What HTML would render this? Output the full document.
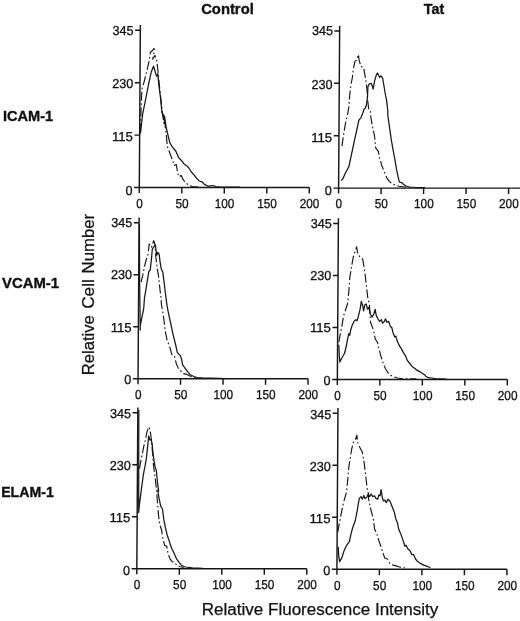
<!DOCTYPE html>
<html lang="en"><head><meta charset="utf-8"><title>Figure</title>
<style>html,body{margin:0;padding:0;background:#fff}svg{display:block}text{font-family:"Liberation Sans",Arial,Helvetica,sans-serif;fill:#111}.b{font-weight:bold;font-size:14.4px;stroke:#111;stroke-width:0.35px}.t{font-size:13px;stroke:#111;stroke-width:0.3px}.a{font-size:16px;stroke:#111;stroke-width:0.25px}.ax{stroke:#161616;stroke-width:1.45;fill:none}.s{stroke:#161616;stroke-width:1.25;fill:none;stroke-linejoin:round}.d{stroke:#161616;stroke-width:1.15;fill:none;stroke-dasharray:9 2.6 1.6 2.6;stroke-linejoin:round}</style></head><body>
<svg width="520" height="621" viewBox="0 0 520 621">
<rect width="520" height="621" fill="#fff"/>
<text class="b" x="201.2" y="14.2" textLength="52.6" lengthAdjust="spacingAndGlyphs" style="font-size:15px">Control</text>
<text class="b" x="423.8" y="14.2" textLength="20.4" lengthAdjust="spacingAndGlyphs" style="font-size:14.8px">Tat</text>
<text class="b" x="3" y="121.4" textLength="50.2" lengthAdjust="spacingAndGlyphs">ICAM-1</text>
<text class="b" x="2" y="287.9" textLength="57" lengthAdjust="spacingAndGlyphs">VCAM-1</text>
<text class="b" x="1.2" y="496.6" textLength="52.6" lengthAdjust="spacingAndGlyphs">ELAM-1</text>
<text class="a" x="201.8" y="615" textLength="236.5" lengthAdjust="spacingAndGlyphs">Relative Fluorescence Intensity</text>
<text class="a" transform="translate(93.5 375.2) rotate(-90)" textLength="60.0" lengthAdjust="spacingAndGlyphs" style="font-size:16.8px">Relative</text>
<text class="a" transform="translate(93.5 308.8) rotate(-90)" textLength="29.6" lengthAdjust="spacingAndGlyphs" style="font-size:16.8px">Cell</text>
<text class="a" transform="translate(93.5 273.4) rotate(-90)" textLength="59.6" lengthAdjust="spacingAndGlyphs" style="font-size:16.8px">Number</text>
<g transform="matrix(1 0 -0.0065 1 1.222 0.0)">
<path class="ax" d="M139.3 25.1 V193.0 M134.1 187.5 H309.3 M134.1 135.1 H139.3 M134.1 82.7 H139.3 M134.1 30.3 H139.3 M181.8 187.5 V193.5 M224.3 187.5 V193.5 M266.8 187.5 V193.5 M309.3 187.5 V193.5"/>
<text class="t" x="125.6" y="194.6" textLength="7.0" lengthAdjust="spacingAndGlyphs">0</text>
<text class="t" x="111.6" y="141.4" textLength="21.0" lengthAdjust="spacingAndGlyphs">115</text>
<text class="t" x="111.6" y="88.2" textLength="21.0" lengthAdjust="spacingAndGlyphs">230</text>
<text class="t" x="111.6" y="34.7" textLength="21.0" lengthAdjust="spacingAndGlyphs">345</text>
<text class="t" x="136.4" y="207.9" textLength="6.5" lengthAdjust="spacingAndGlyphs">0</text>
<text class="t" x="175.7" y="207.9" textLength="13.1" lengthAdjust="spacingAndGlyphs">50</text>
<text class="t" x="214.9" y="207.9" textLength="19.6" lengthAdjust="spacingAndGlyphs">100</text>
<text class="t" x="257.4" y="207.9" textLength="19.6" lengthAdjust="spacingAndGlyphs">150</text>
<text class="t" x="299.9" y="207.9" textLength="19.6" lengthAdjust="spacingAndGlyphs">200</text>
</g>
<path class="d" d="M140.5 132.3 L141.2 104.6 L141.9 89.2 L144.2 81.5 L147.3 69.2 L149.6 58.5 L150.4 52.3 L152.2 50.8 L154.2 48.5 L153.8 53.8 L152.7 59.2 L155.0 55.4 L156.8 60.8 L158.1 72.3 L159.3 84.6 L160.8 98.5 L162.4 112.3 L163.9 123.1 L162.1 111.7 L164.7 122.1 L166.4 136.0 L167.3 146.3 L169.9 153.3 L172.5 160.2 L174.2 165.4 L176.3 164.5 L177.3 170.6 L178.6 176.6 L181.2 175.4 L182.9 179.2 L185.5 182.7 L188.9 185.3 L192.4 186.5 L198.5 187.0"/>
<path class="s" d="M140.4 133.8 L142.7 113.8 L145.8 98.5 L148.8 83.1 L151.2 72.3 L153.5 66.2 L154.7 70.0 L156.5 76.2 L157.8 73.8 L158.8 84.6 L160.4 96.9 L161.9 112.3 L163.5 115.4 L164.5 116.2 L165.8 124.6 L162.1 111.7 L164.7 120.4 L167.3 132.5 L169.9 142.9 L172.5 147.2 L176.0 151.5 L178.6 157.6 L181.2 160.2 L183.8 163.7 L186.3 165.4 L188.9 168.0 L191.5 172.3 L194.1 174.9 L196.7 178.4 L199.3 181.0 L201.9 181.8 L204.5 184.4 L208.0 186.2 L210.6 185.8 L213.2 185.5 L215.8 186.5 L221.0 187.0 L240.0 187.2"/>
<g transform="matrix(1 0 -0.0065 1 1.222 0.6)">
<path class="ax" d="M338.6 25.1 V193.0 M333.4 187.5 H528.6 M333.4 135.1 H338.6 M333.4 82.7 H338.6 M333.4 30.3 H338.6 M381.1 187.5 V193.5 M423.6 187.5 V193.5 M466.1 187.5 V193.5 M508.6 187.5 V193.5"/>
<text class="t" x="324.9" y="194.6" textLength="7.0" lengthAdjust="spacingAndGlyphs">0</text>
<text class="t" x="310.9" y="141.4" textLength="21.0" lengthAdjust="spacingAndGlyphs">115</text>
<text class="t" x="310.9" y="88.2" textLength="21.0" lengthAdjust="spacingAndGlyphs">230</text>
<text class="t" x="310.9" y="34.7" textLength="21.0" lengthAdjust="spacingAndGlyphs">345</text>
<text class="t" x="335.7" y="207.9" textLength="6.5" lengthAdjust="spacingAndGlyphs">0</text>
<text class="t" x="374.9" y="207.9" textLength="13.1" lengthAdjust="spacingAndGlyphs">50</text>
<text class="t" x="414.2" y="207.9" textLength="19.6" lengthAdjust="spacingAndGlyphs">100</text>
<text class="t" x="456.7" y="207.9" textLength="19.6" lengthAdjust="spacingAndGlyphs">150</text>
<text class="t" x="499.2" y="207.9" textLength="19.6" lengthAdjust="spacingAndGlyphs">200</text>
</g>
<path class="d" d="M341.9 146.2 L343.7 134.0 L345.4 123.7 L347.5 115.0 L348.8 107.3 L349.7 95.2 L350.9 84.8 L352.3 77.9 L353.2 70.1 L354.9 61.4 L356.6 60.2 L358.4 54.5 L359.2 60.6 L361.0 66.6 L363.6 67.5 L364.8 74.4 L366.2 82.2 L367.0 90.0 L367.5 98.7 L368.8 109.9 L370.5 111.6 L370.5 115.0 L372.2 125.4 L374.5 135.8 L375.7 147.9 L378.3 151.3 L379.7 158.3 L381.7 165.2 L384.3 172.1 L386.9 178.2 L389.5 181.6 L393.0 184.2 L396.4 185.6 L399.0 186.3 L404.2 187.0 L411.2 187.5"/>
<path class="s" d="M341.1 180.4 L342.8 179.0 L345.4 173.0 L348.8 166.9 L351.4 154.8 L354.0 142.7 L356.6 130.6 L358.9 120.2 L361.0 117.6 L362.7 113.4 L364.1 109.0 L365.3 108.2 L366.5 104.7 L367.5 96.9 L367.9 86.5 L369.3 83.9 L371.3 83.4 L372.2 85.7 L373.1 89.1 L374.5 81.3 L376.2 75.3 L377.4 73.0 L378.6 75.3 L379.7 77.5 L380.9 75.8 L382.6 77.9 L383.8 84.8 L385.2 93.5 L386.6 100.4 L387.8 110.8 L387.8 115.0 L389.5 127.1 L391.2 139.2 L393.0 149.6 L394.7 158.3 L396.4 168.7 L398.2 177.3 L399.4 182.2 L401.6 182.5 L403.4 184.2 L406.0 186.0 L409.4 187.0 L416.3 187.5 L425.0 187.7"/>
<g transform="matrix(1 0 -0.0065 1 1.222 0.0)">
<path class="ax" d="M139.3 217.5 V384.2 M134.1 378.7 H309.3 M134.1 326.7 H139.3 M134.1 274.7 H139.3 M134.1 222.7 H139.3 M181.8 378.7 V384.7 M224.3 378.7 V384.7 M266.8 378.7 V384.7 M309.3 378.7 V384.7"/>
<text class="t" x="125.6" y="384.3" textLength="7.0" lengthAdjust="spacingAndGlyphs">0</text>
<text class="t" x="111.6" y="331.7" textLength="21.0" lengthAdjust="spacingAndGlyphs">115</text>
<text class="t" x="111.6" y="279.4" textLength="21.0" lengthAdjust="spacingAndGlyphs">230</text>
<text class="t" x="111.6" y="227.1" textLength="21.0" lengthAdjust="spacingAndGlyphs">345</text>
<text class="t" x="136.4" y="399.1" textLength="6.5" lengthAdjust="spacingAndGlyphs">0</text>
<text class="t" x="175.7" y="399.1" textLength="13.1" lengthAdjust="spacingAndGlyphs">50</text>
<text class="t" x="214.9" y="399.1" textLength="19.6" lengthAdjust="spacingAndGlyphs">100</text>
<text class="t" x="257.4" y="399.1" textLength="19.6" lengthAdjust="spacingAndGlyphs">150</text>
<text class="t" x="299.9" y="399.1" textLength="19.6" lengthAdjust="spacingAndGlyphs">200</text>
</g>
<path class="d" d="M141.1 282.1 L142.8 275.2 L144.5 266.5 L146.2 259.6 L148.0 254.4 L149.2 244.0 L151.4 247.5 L153.7 240.6 L154.9 244.0 L155.8 256.2 L157.2 268.3 L158.4 275.2 L159.2 282.1 L160.1 290.8 L161.3 299.4 L161.3 303.5 L163.6 317.3 L165.3 331.2 L167.0 339.8 L169.6 346.7 L172.2 355.4 L174.5 356.2 L176.2 363.2 L178.3 368.4 L180.9 371.0 L183.5 373.6 L186.9 374.4 L190.4 376.2 L194.7 377.5 L200.8 378.2"/>
<path class="s" d="M139.4 224.0 L139.6 280.0 L140.3 330.0 L140.2 326.0 L141.9 317.3 L143.7 308.7 L144.5 297.7 L145.7 290.8 L147.1 282.1 L148.8 271.7 L150.2 270.0 L151.4 259.6 L152.3 249.2 L154.0 246.6 L155.4 244.9 L156.1 251.0 L156.8 255.3 L157.8 252.3 L159.2 254.4 L160.1 262.2 L161.3 269.1 L162.7 271.7 L164.1 282.1 L165.3 292.5 L166.5 301.2 L166.2 300.0 L167.9 310.4 L170.5 322.5 L173.1 334.6 L175.7 345.0 L177.4 352.8 L180.3 355.4 L181.7 359.7 L182.6 364.9 L185.2 368.4 L187.8 371.8 L190.4 374.8 L193.8 376.5 L197.3 377.5 L204.2 378.2 L212.9 378.2 L225.0 378.6"/>
<g transform="matrix(1 0 -0.0065 1 1.222 0.8)">
<path class="ax" d="M338.6 217.5 V384.2 M333.4 378.7 H508.6 M333.4 326.7 H338.6 M333.4 274.7 H338.6 M333.4 222.7 H338.6 M381.1 378.7 V384.7 M423.6 378.7 V384.7 M466.1 378.7 V384.7 M508.6 378.7 V384.7"/>
<text class="t" x="324.9" y="384.3" textLength="7.0" lengthAdjust="spacingAndGlyphs">0</text>
<text class="t" x="310.9" y="331.7" textLength="21.0" lengthAdjust="spacingAndGlyphs">115</text>
<text class="t" x="310.9" y="279.4" textLength="21.0" lengthAdjust="spacingAndGlyphs">230</text>
<text class="t" x="310.9" y="227.1" textLength="21.0" lengthAdjust="spacingAndGlyphs">345</text>
<text class="t" x="335.7" y="399.1" textLength="6.5" lengthAdjust="spacingAndGlyphs">0</text>
<text class="t" x="374.9" y="399.1" textLength="13.1" lengthAdjust="spacingAndGlyphs">50</text>
<text class="t" x="414.2" y="399.1" textLength="19.6" lengthAdjust="spacingAndGlyphs">100</text>
<text class="t" x="456.7" y="399.1" textLength="19.6" lengthAdjust="spacingAndGlyphs">150</text>
<text class="t" x="499.2" y="399.1" textLength="19.6" lengthAdjust="spacingAndGlyphs">200</text>
</g>
<path class="d" d="M338.8 342.2 L340.2 334.4 L341.9 325.8 L343.7 315.4 L345.4 310.2 L347.5 304.0 L348.8 291.9 L349.7 278.1 L351.4 267.7 L353.2 257.3 L354.9 252.1 L356.6 246.9 L357.8 253.8 L360.1 257.3 L362.7 259.0 L364.1 267.7 L365.3 276.3 L366.5 286.7 L367.9 298.8 L369.3 303.2 L370.5 322.3 L372.2 326.6 L373.9 331.8 L375.2 338.8 L377.4 342.2 L379.1 349.1 L380.9 356.1 L383.1 363.0 L385.2 368.2 L387.8 372.5 L390.4 375.1 L393.8 376.8 L397.3 378.0 L402.5 378.7 L409.4 378.9 L416.3 378.9"/>
<path class="s" d="M338.8 344.8 L339.3 355.2 L339.8 362.1 L341.9 357.8 L344.5 353.5 L346.2 346.5 L347.5 339.6 L348.8 333.6 L349.7 335.3 L350.9 329.2 L352.3 324.9 L354.0 321.4 L355.8 319.7 L357.2 320.6 L358.4 316.2 L360.1 309.2 L361.3 301.4 L362.7 305.7 L363.6 310.9 L364.8 304.8 L366.2 304.0 L367.5 309.2 L368.8 307.4 L370.5 314.5 L372.2 317.1 L373.9 313.7 L375.2 309.3 L376.2 315.4 L377.9 318.8 L379.7 321.4 L381.4 319.7 L382.6 323.2 L384.3 321.4 L385.5 318.8 L386.9 322.3 L388.7 321.4 L390.4 326.6 L391.8 327.5 L393.0 332.7 L394.7 337.0 L395.9 336.2 L397.3 341.3 L399.4 345.7 L401.6 349.1 L403.4 352.6 L405.6 356.1 L407.3 360.4 L409.4 363.0 L412.0 366.4 L414.6 368.2 L417.2 370.4 L419.8 371.6 L422.4 373.4 L425.0 375.1 L425.8 376.3 L428.4 377.7 L431.8 378.0 L435.3 378.7 L446.5 379.1"/>
<g transform="matrix(1 0 -0.0065 1 1.222 0.0)">
<path class="ax" d="M139.3 407.5 V574.3 M134.1 568.8 H309.3 M134.1 516.8 H139.3 M134.1 464.7 H139.3 M134.1 412.7 H139.3 M181.8 568.8 V574.8 M224.3 568.8 V574.8 M266.8 568.8 V574.8 M309.3 568.8 V574.8"/>
<text class="t" x="125.6" y="574.7" textLength="7.0" lengthAdjust="spacingAndGlyphs">0</text>
<text class="t" x="111.6" y="522.4" textLength="21.0" lengthAdjust="spacingAndGlyphs">115</text>
<text class="t" x="111.6" y="470.2" textLength="21.0" lengthAdjust="spacingAndGlyphs">230</text>
<text class="t" x="111.6" y="418.1" textLength="21.0" lengthAdjust="spacingAndGlyphs">345</text>
<text class="t" x="136.4" y="589.2" textLength="6.5" lengthAdjust="spacingAndGlyphs">0</text>
<text class="t" x="175.7" y="589.2" textLength="13.1" lengthAdjust="spacingAndGlyphs">50</text>
<text class="t" x="214.9" y="589.2" textLength="19.6" lengthAdjust="spacingAndGlyphs">100</text>
<text class="t" x="257.4" y="589.2" textLength="19.6" lengthAdjust="spacingAndGlyphs">150</text>
<text class="t" x="299.9" y="589.2" textLength="19.6" lengthAdjust="spacingAndGlyphs">200</text>
</g>
<path class="d" d="M139.5 468.7 L140.7 461.7 L142.1 454.8 L143.8 446.2 L145.6 439.2 L147.0 431.4 L149.0 427.1 L150.4 432.3 L151.1 437.5 L152.0 446.2 L152.7 454.8 L153.5 465.2 L154.6 473.8 L155.6 481.6 L156.5 489.4 L156.8 493.5 L157.7 505.6 L158.6 516.0 L159.8 524.6 L161.5 529.8 L162.9 538.5 L164.6 545.4 L166.7 546.2 L168.1 554.0 L170.2 559.2 L172.4 561.8 L174.7 562.3 L176.7 565.3 L180.2 566.7 L183.7 567.5"/>
<path class="s" d="M138.8 410.0 L138.7 512.5 L139.5 503.8 L140.7 495.2 L141.8 486.0 L143.5 473.8 L145.2 465.2 L146.4 458.3 L147.3 449.6 L148.2 441.0 L148.7 435.8 L149.9 440.1 L151.1 439.2 L152.2 444.4 L152.8 451.3 L153.9 460.0 L155.1 466.9 L156.3 470.4 L157.3 480.8 L158.6 491.2 L157.7 490.0 L159.1 498.7 L160.8 506.4 L162.5 509.0 L163.8 519.4 L165.5 528.1 L167.2 535.0 L169.5 541.9 L171.5 548.0 L174.1 553.2 L176.7 559.2 L179.3 562.7 L181.9 565.6 L185.4 567.0 L192.3 567.9 L202.7 568.4"/>
<g transform="matrix(1 0 -0.0065 1 2.022 0.5)">
<path class="ax" d="M338.6 407.5 V574.3 M333.4 568.8 H508.6 M333.4 516.8 H338.6 M333.4 464.7 H338.6 M333.4 412.7 H338.6 M381.1 568.8 V574.8 M423.6 568.8 V574.8 M466.1 568.8 V574.8 M508.6 568.8 V574.8"/>
<text class="t" x="324.9" y="574.7" textLength="7.0" lengthAdjust="spacingAndGlyphs">0</text>
<text class="t" x="310.9" y="522.4" textLength="21.0" lengthAdjust="spacingAndGlyphs">115</text>
<text class="t" x="310.9" y="470.2" textLength="21.0" lengthAdjust="spacingAndGlyphs">230</text>
<text class="t" x="310.9" y="418.1" textLength="21.0" lengthAdjust="spacingAndGlyphs">345</text>
<text class="t" x="335.7" y="589.2" textLength="6.5" lengthAdjust="spacingAndGlyphs">0</text>
<text class="t" x="374.9" y="589.2" textLength="13.1" lengthAdjust="spacingAndGlyphs">50</text>
<text class="t" x="414.2" y="589.2" textLength="19.6" lengthAdjust="spacingAndGlyphs">100</text>
<text class="t" x="456.7" y="589.2" textLength="19.6" lengthAdjust="spacingAndGlyphs">150</text>
<text class="t" x="499.2" y="589.2" textLength="19.6" lengthAdjust="spacingAndGlyphs">200</text>
</g>
<path class="d" d="M337.8 532.2 L339.1 524.4 L340.8 515.8 L342.5 507.1 L344.2 500.2 L346.5 492.3 L347.7 480.2 L348.9 466.3 L350.3 457.7 L351.7 449.0 L353.4 442.1 L355.5 439.5 L356.9 435.2 L357.6 442.1 L359.8 447.3 L362.4 452.5 L363.8 460.3 L365.0 469.8 L366.2 480.2 L367.3 489.7 L368.5 494.0 L368.5 498.5 L370.2 507.1 L372.5 515.8 L373.7 521.0 L374.5 528.8 L377.1 534.8 L378.9 540.9 L381.1 546.9 L383.2 553.8 L384.9 558.2 L387.5 559.0 L389.2 562.5 L391.8 564.8 L395.3 565.6 L398.8 566.8 L402.2 567.7 L404.8 567.7"/>
<path class="s" d="M338.2 546.9 L338.7 555.6 L339.6 561.6 L341.7 558.2 L344.2 550.4 L346.8 545.2 L349.4 541.7 L351.2 533.1 L352.9 527.0 L355.2 521.0 L357.2 510.6 L359.0 500.2 L359.3 498.4 L361.0 496.6 L362.4 499.2 L363.8 495.4 L365.0 498.4 L366.8 497.2 L368.0 494.4 L369.7 496.6 L371.1 494.0 L372.8 496.6 L374.5 495.8 L375.9 498.4 L377.7 499.2 L378.9 494.9 L380.1 495.8 L381.1 489.7 L382.3 497.5 L383.5 501.0 L384.9 500.1 L386.3 502.7 L388.0 499.2 L389.8 501.0 L391.0 503.7 L392.7 508.0 L394.4 512.3 L395.7 518.4 L397.4 522.7 L398.8 529.6 L400.8 533.9 L402.6 539.1 L404.3 544.3 L404.7 546.1 L406.1 545.2 L407.8 548.7 L409.9 550.4 L412.0 554.7 L413.7 554.7 L415.5 559.0 L417.7 561.6 L420.3 563.4 L423.8 565.1 L427.2 566.3 L430.3 567.7"/>
</svg></body></html>
